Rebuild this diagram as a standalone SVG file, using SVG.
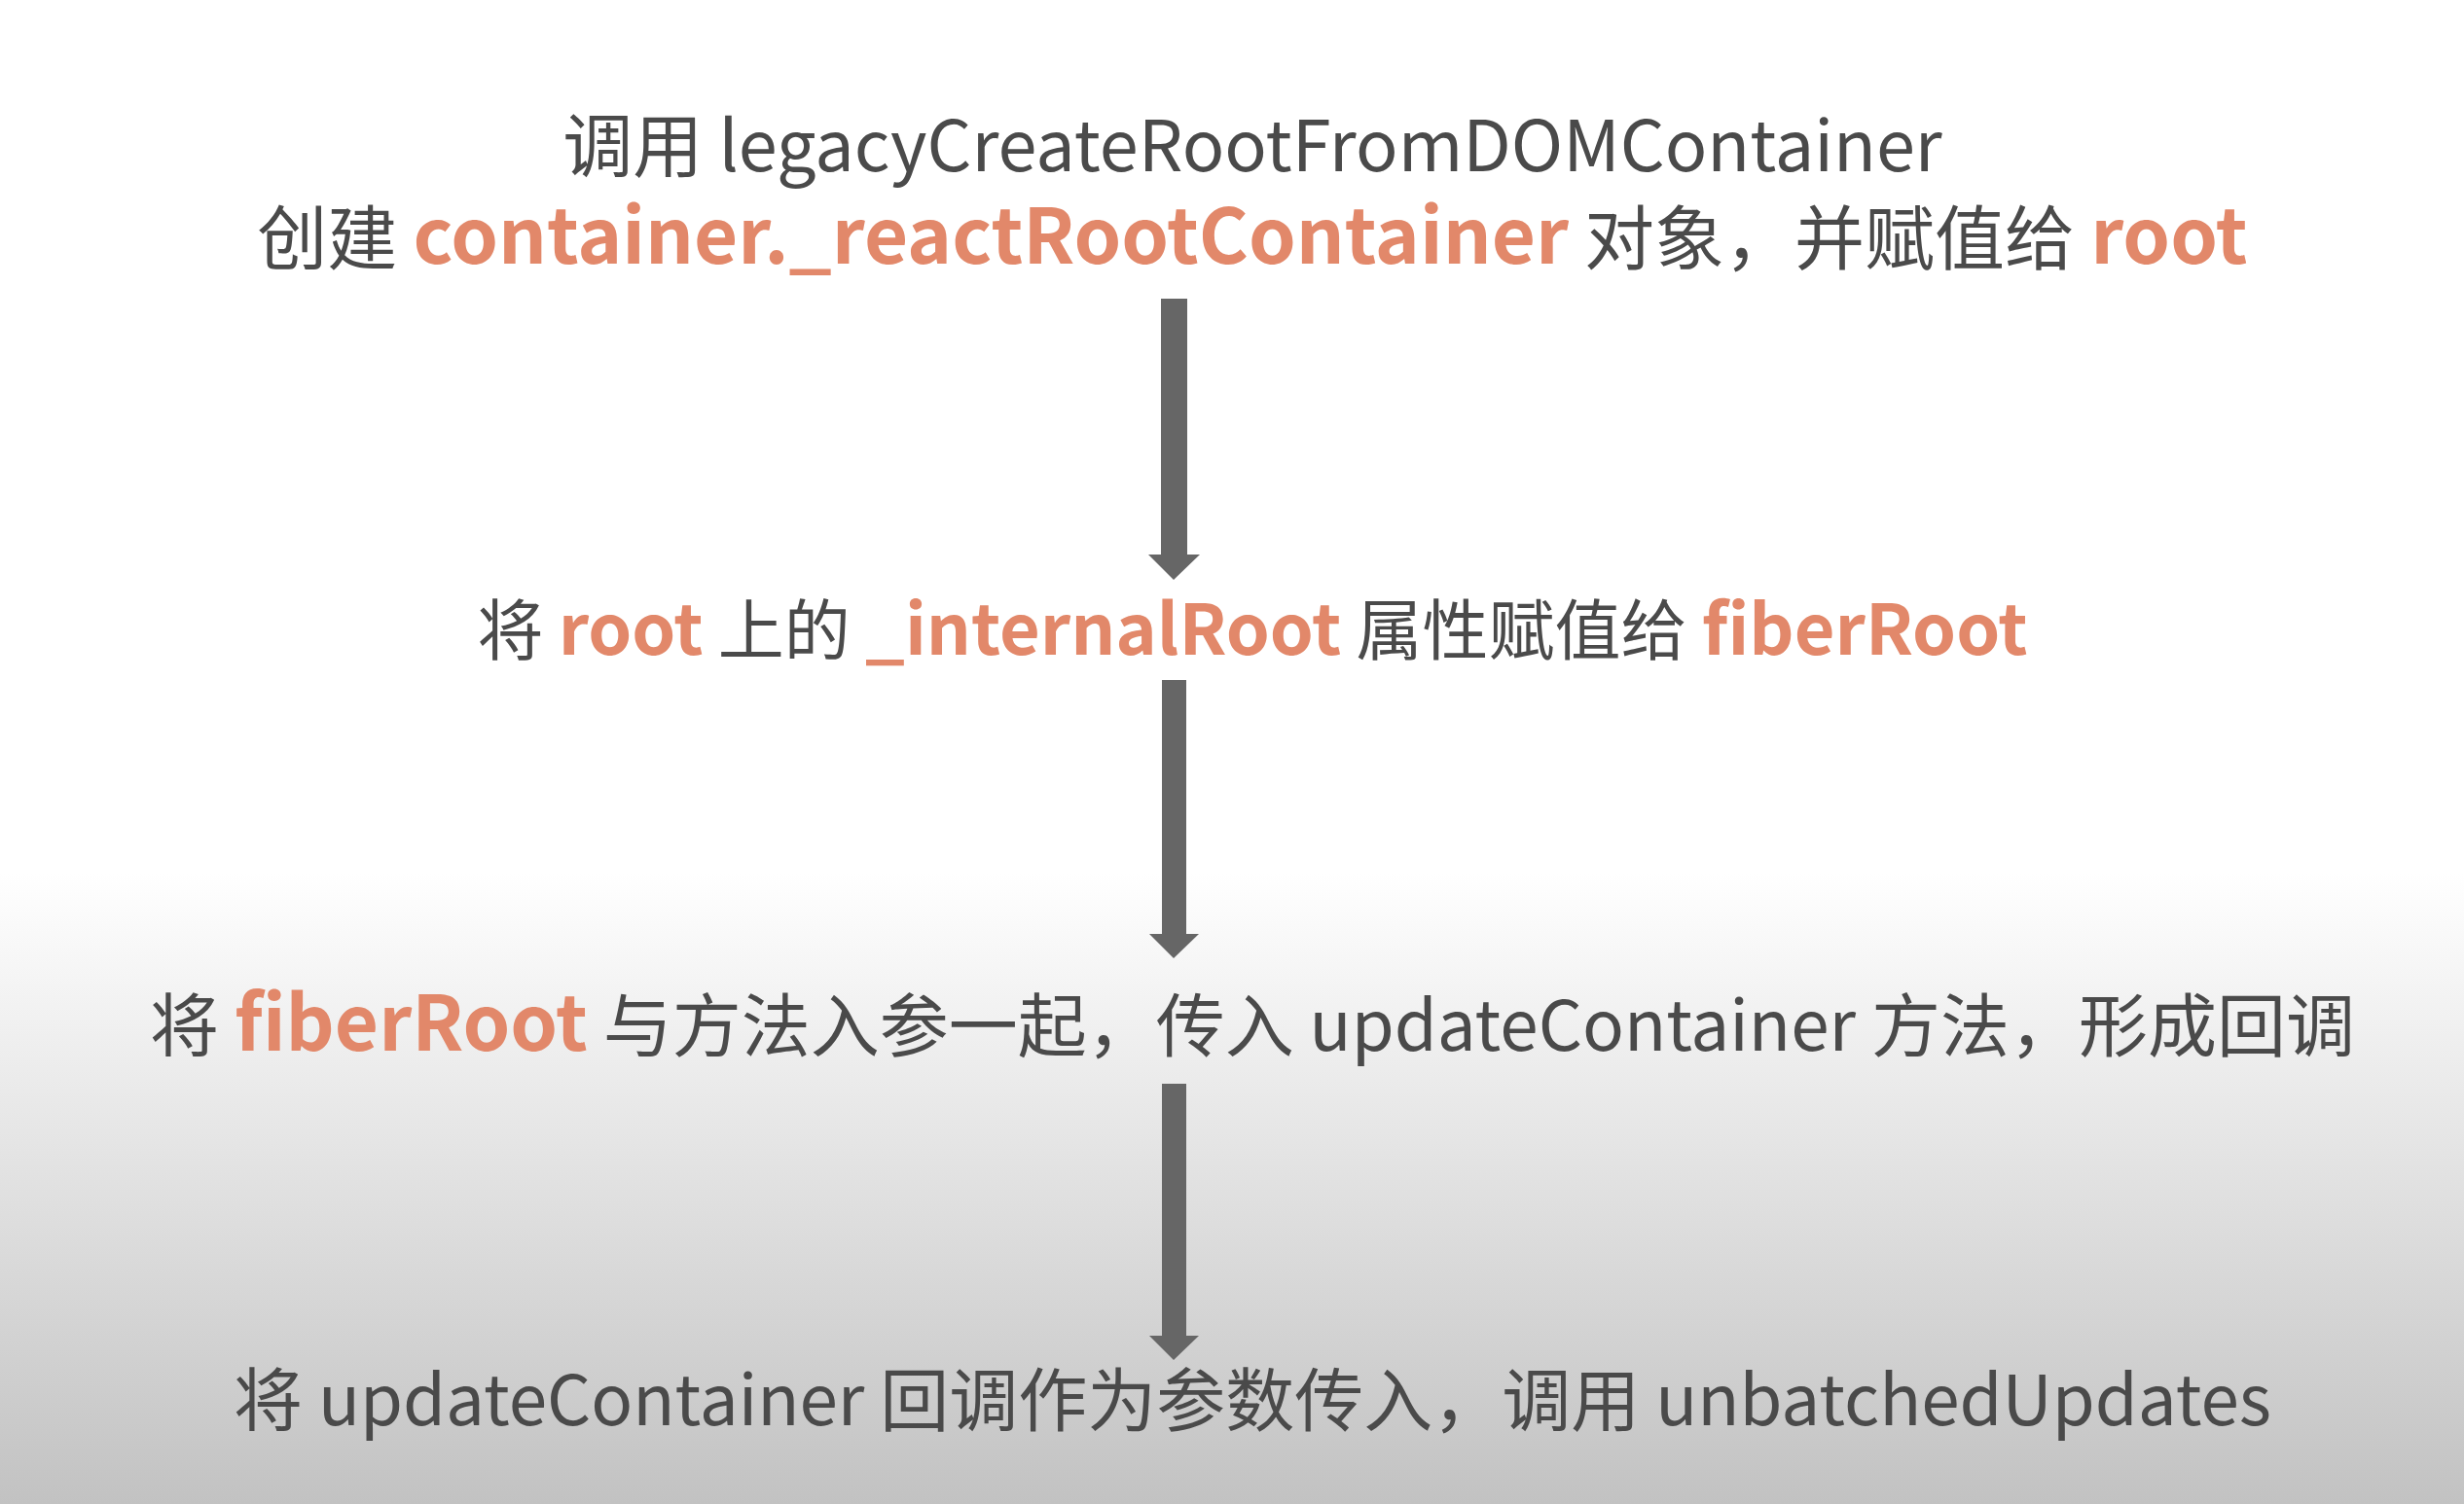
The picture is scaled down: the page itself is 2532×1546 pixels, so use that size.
<svg xmlns="http://www.w3.org/2000/svg" width="2532" height="1546" viewBox="0 0 2532 1546">
<defs>
<linearGradient id="bg" x1="0" y1="0" x2="0" y2="1546" gradientUnits="userSpaceOnUse">
<stop offset="0" stop-color="#ffffff"/>
<stop offset="0.58" stop-color="#ffffff"/>
<stop offset="1" stop-color="#c2c2c2"/>
</linearGradient>
<style>
text{font-family:"Noto Sans CJK SC","Noto Sans",sans-serif;fill:#4a4a4a;text-anchor:middle}
.o{fill:#e2886a;font-weight:600}
.arrow{fill:#666666}
</style>
</defs>
<rect width="2532" height="1546" fill="url(#bg)"/>
<g id="connectors">
<polygon class="arrow" points="1193,307 1220,307 1220,570 1233,570 1206,596 1180,570 1193,570"/>
<polygon class="arrow" points="1194,699 1219,699 1219,960 1232,960 1206,985 1181,960 1194,960"/>
<polygon class="arrow" points="1194,1114 1219,1114 1219,1373 1232,1373 1206,1398 1181,1373 1194,1373"/>
</g>
<g id="node1">
<text x="1287" y="176" font-size="72">调用 legacyCreateRootFromDOMContainer</text>
<text x="1287" y="271" font-size="72">创建 <tspan class="o" font-size="78">container._reactRootContainer</tspan> 对象，并赋值给 <tspan class="o" font-size="78">root</tspan></text>
</g>
<g id="node2">
<text x="1287" y="673" font-size="68">将 <tspan class="o" font-size="72">root</tspan> 上的 <tspan class="o" font-size="72">_internalRoot</tspan> 属性赋值给 <tspan class="o" font-size="72">fiberRoot</tspan></text>
</g>
<g id="node3">
<text x="1287" y="1080" font-size="71">将 <tspan class="o" font-size="78">fiberRoot</tspan> 与方法入参一起，传入 updateContainer 方法，形成回调</text>
</g>
<g id="node4">
<text x="1287" y="1465" font-size="71">将 updateContainer 回调作为参数传入，调用 unbatchedUpdates</text>
</g>
</svg>
